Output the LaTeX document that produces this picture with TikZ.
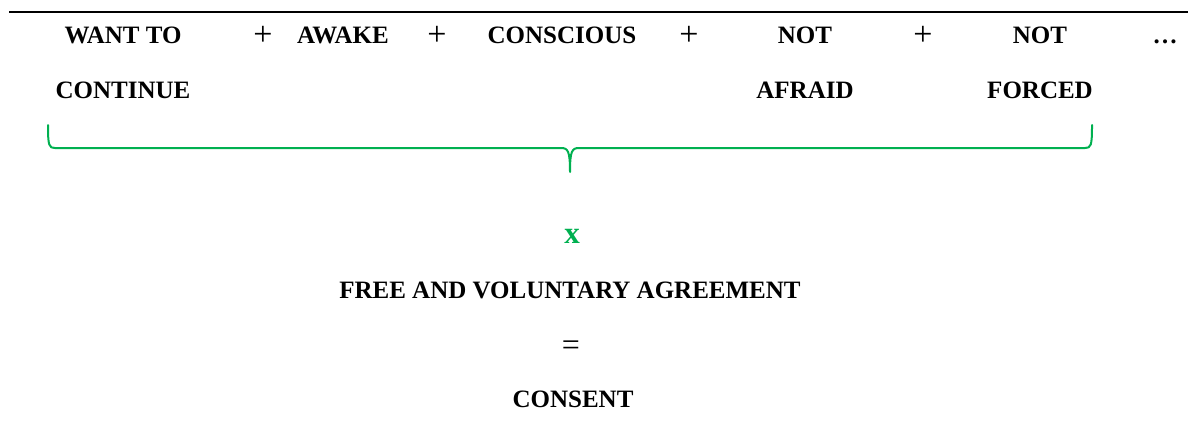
\documentclass[tikz,border=0pt]{standalone}
\usepackage{fontspec}
\setmainfont{Liberation Serif}
\usepackage{xcolor}
\usepackage{tikz}
\definecolor{bracegreen}{HTML}{00B050}

\tikzset{
  term/.style={inner sep=0pt, anchor=base, font=\fontsize{12.5}{15}\selectfont\bfseries},
  plus/.style={inner sep=0pt, font=\fontsize{17}{20}\selectfont},
  bracket/.style={bracegreen, line width=1pt, line cap=round, line join=round}
}

\begin{document}
\begin{tikzpicture}[x=0.5pt, y=-0.5pt]
\useasboundingbox (0,0) rectangle (1188,428);
% rule across the top
\draw[line width=1pt] (9,12) -- (1188,12);
% first row of conditions
\node[term] (want) at (123,43) {WANT TO};
\node[plus] (p1) at (263,36) {+};
\node[term] (awake) at (343,43) {AWAKE};
\node[plus] (p2) at (437,36) {+};
\node[term] (consc) at (562,43) {CONSCIOUS};
\node[plus] (p3) at (689,36) {+};
\node[term] (notA) at (805,43) {NOT};
\node[plus] (p4) at (923,36) {+};
\node[term] (notF) at (1040,43) {NOT};
\node[term] (more) at (1165,43) {…};
% second row
\node[term] (cont) at (123,98) {CONTINUE};
\node[term] (afraid) at (805,98) {AFRAID};
\node[term] (forced) at (1040,98) {FORCED};
% brace under the conditions
\coordinate (brL) at (48,125);
\coordinate (brM) at (570,172);
\coordinate (brR) at (1092,125);
\draw[bracket] (brL) .. controls (48,146) and (49,148) .. (55,148) -- (561,148)
  .. controls (568,148) and (570,151) .. (brM)
  .. controls (570,151) and (572,148) .. (579,148) -- (1085,148)
  .. controls (1091,148) and (1092,146) .. (brR);
% result
\node[term, text=bracegreen, font=\fontsize{15.5}{18}\selectfont\bfseries] (times) at (572,243) {x};
\node[term] (agree) at (570,298) {FREE AND VOLUNTARY AGREEMENT};
\node[plus, font=\fontsize{16}{19}\selectfont] (eq) at (571,348) {=};
\node[term] (consent) at (573,407) {CONSENT};
\end{tikzpicture}
\end{document}
